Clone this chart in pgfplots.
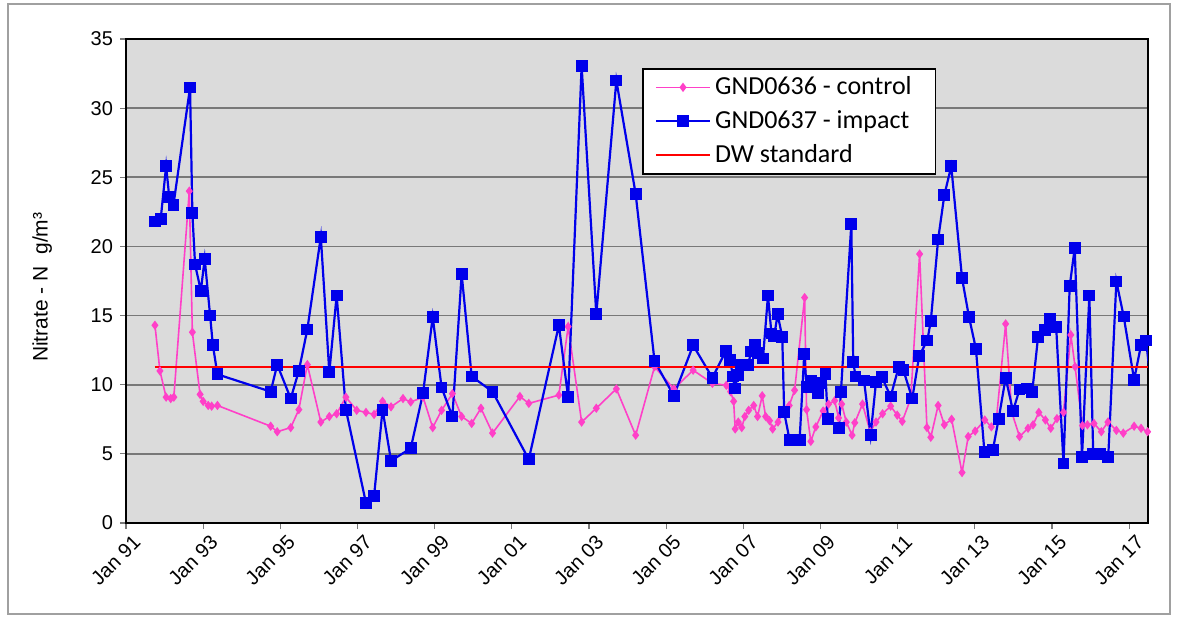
\documentclass[border=0pt]{standalone}
\usepackage{fontspec}
\setmainfont{Liberation Sans}
\newfontfamily\legfont{Carlito}
\usepackage{pgfplots}
\usepackage{pgfplotstable}
\pgfplotsset{compat=1.18}
\definecolor{plotbg}{RGB}{219,219,219}
\definecolor{gridc}{RGB}{120,120,120}
\definecolor{pinkc}{RGB}{255,64,200}
\definecolor{bluec}{RGB}{0,0,235}
\definecolor{framec}{RGB}{160,160,160}

\pgfplotstableread{
t v
1991.75 21.8
1991.90 22.0
1992.04 25.8
1992.12 23.6
1992.23 23.0
1992.66 31.5
1992.72 22.4
1992.79 18.7
1992.94 16.8
1993.04 19.1
1993.18 15.0
1993.25 12.9
1993.37 10.75
1994.75 9.5
1994.92 11.45
1995.27 9.0
1995.48 11.0
1995.70 14.0
1996.05 20.7
1996.27 10.9
1996.46 16.45
1996.70 8.2
1997.22 1.45
1997.43 1.95
1997.65 8.2
1997.87 4.5
1998.38 5.4
1998.70 9.4
1998.95 14.9
1999.18 9.8
1999.46 7.7
1999.70 18.0
1999.96 10.6
2000.50 9.5
2001.44 4.6
2002.22 14.3
2002.46 9.1
2002.81 33.05
2003.19 15.1
2003.71 32.0
2004.21 23.8
2004.70 11.7
2005.20 9.2
2005.70 12.85
2006.20 10.5
2006.55 12.45
2006.66 11.8
2006.73 10.6
2006.78 9.72
2006.86 10.68
2006.95 11.4
2007.12 11.45
2007.21 12.4
2007.30 12.85
2007.38 12.3
2007.51 11.9
2007.64 16.45
2007.73 13.7
2007.80 13.5
2007.89 15.1
2008.01 13.45
2008.06 8.0
2008.20 6.0
2008.33 6.0
2008.46 6.0
2008.58 12.24
2008.64 9.84
2008.76 10.3
2008.85 10.1
2008.94 9.4
2009.02 10.1
2009.13 10.75
2009.19 7.5
2009.48 6.85
2009.53 9.45
2009.80 21.6
2009.85 11.65
2009.91 10.6
2010.13 10.3
2010.30 6.35
2010.44 10.2
2010.59 10.56
2010.82 9.15
2011.03 11.3
2011.15 11.05
2011.38 9.0
2011.56 12.1
2011.77 13.2
2011.86 14.6
2012.05 20.5
2012.21 23.7
2012.39 25.8
2012.67 17.7
2012.85 14.9
2013.03 12.6
2013.25 5.15
2013.47 5.3
2013.62 7.55
2013.80 10.5
2013.99 8.1
2014.16 9.65
2014.34 9.72
2014.49 9.5
2014.64 13.45
2014.81 13.95
2014.96 14.75
2015.11 14.17
2015.30 4.31
2015.46 17.12
2015.59 19.87
2015.78 4.8
2015.97 16.45
2016.07 5.0
2016.26 5.0
2016.46 4.8
2016.67 17.47
2016.86 14.94
2017.13 10.37
2017.31 12.88
2017.44 13.2
2017.58 9.7
}\impact

\pgfplotstableread{
t v
1991.75 14.3
1991.88 11.0
1992.04 9.1
1992.16 9.0
1992.24 9.1
1992.64 24.0
1992.72 13.8
1992.92 9.3
1993.00 8.8
1993.13 8.5
1993.22 8.45
1993.37 8.5
1994.75 7.0
1994.92 6.6
1995.27 6.9
1995.48 8.2
1995.70 11.45
1996.05 7.3
1996.27 7.7
1996.46 7.9
1996.70 9.1
1996.98 8.15
1997.22 8.0
1997.43 7.85
1997.65 8.8
1997.87 8.4
1998.18 9.0
1998.38 8.75
1998.70 9.1
1998.95 6.9
1999.18 8.15
1999.46 9.35
1999.70 7.7
1999.96 7.2
2000.20 8.3
2000.50 6.5
2001.21 9.15
2001.44 8.65
2002.22 9.25
2002.46 14.2
2002.81 7.3
2003.19 8.3
2003.71 9.7
2004.21 6.35
2004.70 11.3
2005.20 9.7
2005.70 11.05
2006.20 10.1
2006.56 9.96
2006.67 9.5
2006.75 8.8
2006.79 6.8
2006.87 7.3
2006.96 6.9
2007.04 7.7
2007.14 8.15
2007.27 8.5
2007.37 7.7
2007.49 9.2
2007.58 7.7
2007.68 7.4
2007.76 6.8
2007.90 7.3
2008.03 8.0
2008.19 8.5
2008.33 9.6
2008.59 16.3
2008.64 8.2
2008.75 5.9
2008.88 6.95
2009.07 8.1
2009.21 8.6
2009.37 8.85
2009.47 7.6
2009.55 8.6
2009.67 7.3
2009.82 6.35
2009.89 7.25
2010.09 8.6
2010.29 6.6
2010.44 7.3
2010.61 7.9
2010.82 8.45
2010.99 7.8
2011.12 7.35
2011.34 9.0
2011.57 19.45
2011.76 6.9
2011.86 6.2
2012.05 8.5
2012.21 7.1
2012.40 7.5
2012.67 3.65
2012.83 6.25
2013.01 6.65
2013.26 7.45
2013.43 6.95
2013.56 7.5
2013.80 14.4
2013.96 8.0
2014.16 6.25
2014.38 6.85
2014.51 7.1
2014.66 8.0
2014.83 7.45
2014.97 6.85
2015.13 7.55
2015.30 8.0
2015.49 13.6
2015.60 11.3
2015.79 7.05
2015.92 7.1
2016.09 7.2
2016.28 6.6
2016.45 7.3
2016.67 6.7
2016.85 6.5
2017.13 7.0
2017.31 6.85
2017.48 6.6
}\control

\pgfplotstableread{
t v
1991.75 11.3
2017.49 11.3
}\dwstd

\begin{document}
\begin{tikzpicture}
\useasboundingbox (-63pt,-50pt) rectangle (526.5pt,261.5pt);
\draw[framec, line width=0.8pt] (-59pt,-45.5pt) rectangle (522pt,259.5pt);
\begin{axis}[
  scale only axis,
  width=511pt, height=242pt,
  xmin=1991, xmax=2017.49,
  ymin=0, ymax=35,
  ytick={0,5,...,35},
  xtick={1991,1993,...,2017},
  xticklabels={Jan 91,Jan 93,Jan 95,Jan 97,Jan 99,Jan 01,Jan 03,Jan 05,Jan 07,Jan 09,Jan 11,Jan 13,Jan 15,Jan 17},
  tick align=outside,
  tick pos=left,
  major tick length=3pt,
  tick style={gridc, line width=0.6pt},
  ymajorgrids,
  grid style={gridc, line width=0.8pt},
  axis background/.style={fill=plotbg},
  axis line style={black, line width=0.8pt},
  /pgf/number format/assume math mode=true,
  y tick label style={font=\fontsize{10}{12}\selectfont},
  x tick label style={font=\fontsize{10}{12}\selectfont, xshift=8pt, yshift=-2.5pt, rotate=45, anchor=east},
  ylabel={Nitrate - N\ \ g/m³},
  ylabel style={font=\fontsize{10.5}{12}\selectfont, at={(axis description cs:-0.082,0.487)}, anchor=center},
  legend cell align=left,
  legend style={at={(rel axis cs:0.505,0.94)}, anchor=north west, draw=black, line width=0.8pt, fill=white,
    font=\legfont\fontsize{13}{15}\selectfont, inner xsep=6pt, inner ysep=2pt, row sep=2.5pt},
  legend image code/.code={\draw[mark repeat=2,mark phase=2,#1] plot coordinates {(0pt,0pt) (13.5pt,0pt) (27pt,0pt)};},
]
\addplot[pinkc, line width=0.8pt, mark=diamond*, mark size=1.7pt, mark options={fill=pinkc, draw=pinkc}] table {\control};
\addlegendentry{GND0636 - control\hspace*{4pt}}
\addplot[bluec, line width=1.1pt, mark=square*, mark size=2.4pt, mark options={fill=bluec, draw=bluec}] table {\impact};
\addlegendentry{GND0637 - impact}
\addplot[red, line width=1.1pt] table {\dwstd};
\addlegendentry{DW standard}
\end{axis}
\end{tikzpicture}
\end{document}
